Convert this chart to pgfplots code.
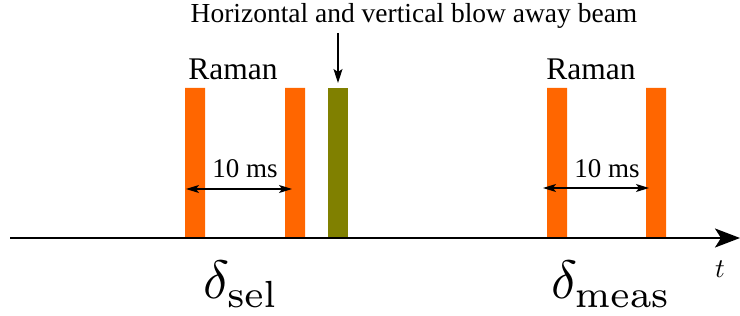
\documentclass[border=0pt]{standalone}
\usepackage[no-math]{fontspec}
\setmainfont{Liberation Serif}
\usepackage{pgfplots}
\pgfplotsset{compat=1.18}
\usetikzlibrary{arrows.meta}
\definecolor{ramanor}{RGB}{255,102,0}
\definecolor{blowgr}{RGB}{128,128,0}
\begin{document}
\begin{tikzpicture}
\begin{axis}[
  scale only axis, width=740pt, height=316pt,
  xmin=0, xmax=740, ymin=-78, ymax=238,
  axis lines=none, ticks=none, clip=false,
]
% Raman pulses
\addplot[ybar, bar width=20, bar shift=0pt, fill=ramanor, draw=none]
  coordinates {(195,150) (295,150) (557,150) (656,150)};
% blow away beam
\addplot[ybar, bar width=20, bar shift=0pt, fill=blowgr, draw=none]
  coordinates {(338,150)};
% time axis
\draw[line width=2pt, -{Stealth[length=25pt, width=19pt, inset=6pt]}] (axis cs:10,0) -- (axis cs:740,0);
% 10 ms arrows
\draw[line width=1.3pt, {Stealth[length=13pt,width=8pt,inset=3pt]}-{Stealth[length=13pt,width=8pt,inset=3pt]}] (axis cs:186,49) -- (axis cs:292,49);
\draw[line width=1.3pt, {Stealth[length=13pt,width=8pt,inset=3pt]}-{Stealth[length=13pt,width=8pt,inset=3pt]}] (axis cs:543,50) -- (axis cs:649,50);
\node[anchor=base, inner sep=0pt, font=\fontsize{27}{30}\selectfont] at (axis cs:245,60) {10 ms};
\node[anchor=base, inner sep=0pt, font=\fontsize{27}{30}\selectfont] at (axis cs:607,60) {10 ms};
% Raman labels
\node[anchor=base, inner sep=0pt, font=\fontsize{31.5}{34}\selectfont] at (axis cs:233,158) {Raman};
\node[anchor=base, inner sep=0pt, font=\fontsize{31.5}{34}\selectfont] at (axis cs:591,158) {Raman};
% top label and arrow
\node[anchor=base, inner sep=0pt, font=\fontsize{27.5}{30}\selectfont] at (axis cs:414,215.5) {Horizontal and vertical blow away beam};
\draw[line width=1.3pt, -{Stealth[length=14pt,width=9pt,inset=3pt]}] (axis cs:338,205) -- (axis cs:338,155);
% delta labels
\node[anchor=base, inner sep=0pt, scale=5.4] at (axis cs:241,-61) {$\delta_{\mathrm{sel}}$};
\node[anchor=base, inner sep=0pt, scale=5.4] at (axis cs:611,-61) {$\delta_{\mathrm{meas}}$};
\node[anchor=base, inner sep=0pt, scale=2.7] at (axis cs:720,-40) {$t$};
\end{axis}
\pgfresetboundingbox
\path (current axis.south west) rectangle (current axis.north east);
\end{tikzpicture}
\end{document}
